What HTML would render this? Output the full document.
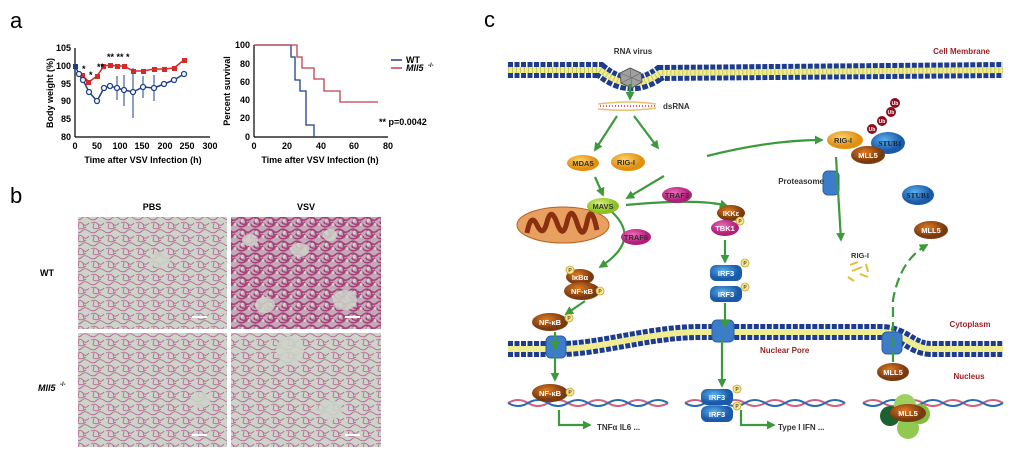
<!DOCTYPE html>
<html><head><meta charset="utf-8"><style>
body{margin:0;background:#fff;}
svg{display:block;font-family:"Liberation Sans",Arial,sans-serif;}
</style></head><body>
<svg width="1014" height="450" viewBox="0 0 1014 450" xmlns="http://www.w3.org/2000/svg">
<defs>
<marker id="ah" viewBox="0 0 10 10" refX="8" refY="5" markerWidth="4" markerHeight="4" orient="auto"><path d="M0,0 L10,5 L0,10 z" fill="#3c9a3c"/></marker>
<pattern id="lung" width="15" height="13" patternUnits="userSpaceOnUse">
<rect width="15" height="13" fill="#cdd4c9"/>
<path d="M1,2 Q5,0 8,3 T14,2 M3,7 Q7,9 11,6 M0,11 Q4,13 7,10 T15,11 M8,3 L9,7 M4,2 L3,7" stroke="#b86a98" stroke-width="0.9" fill="none"/>
</pattern>
<pattern id="lung2" width="14" height="12" patternUnits="userSpaceOnUse">
<rect width="14" height="12" fill="#c4aab9"/>
<path d="M0,2 Q4,0 7,3 T14,2 M2,7 Q7,10 11,6 M0,10 Q4,12 8,9 T14,10 M7,3 L8,7 M4,1 L2,7" stroke="#a8407a" stroke-width="1.6" fill="none"/>
<circle cx="4" cy="4.5" r="1.6" fill="#cdd4c9"/><circle cx="11" cy="8.5" r="1.5" fill="#cdd4c9"/>
</pattern>
<radialGradient id="org" cx="40%" cy="35%"><stop offset="0" stop-color="#ffd36a"/><stop offset="1" stop-color="#e08f10"/></radialGradient>
<radialGradient id="brn" cx="40%" cy="35%"><stop offset="0" stop-color="#e07a20"/><stop offset="1" stop-color="#7a3a10"/></radialGradient>
<radialGradient id="mag" cx="40%" cy="35%"><stop offset="0" stop-color="#f06ab8"/><stop offset="1" stop-color="#b0207a"/></radialGradient>
<radialGradient id="blu" cx="40%" cy="35%"><stop offset="0" stop-color="#5ab0f0"/><stop offset="1" stop-color="#1a5aa8"/></radialGradient>
<radialGradient id="grn" cx="40%" cy="35%"><stop offset="0" stop-color="#d8f080"/><stop offset="1" stop-color="#8cc020"/></radialGradient>
</defs>

<!-- ===== Panel a ===== -->
<text x="10" y="28" font-size="22">a</text>
<g font-size="9" font-weight="bold">
<line x1="75" y1="48" x2="75" y2="137" stroke="#000" stroke-width="1.2"/>
<line x1="75" y1="137" x2="210" y2="137" stroke="#000" stroke-width="1.2"/>
<g text-anchor="end">
<text x="71" y="51">105</text><text x="71" y="69">100</text><text x="71" y="87">95</text><text x="71" y="104">90</text><text x="71" y="122">85</text><text x="71" y="140">80</text></g>
<g text-anchor="middle">
<text x="75" y="149">0</text><text x="97" y="149">50</text><text x="120" y="149">100</text><text x="142" y="149">150</text><text x="165" y="149">200</text><text x="187" y="149">250</text><text x="210" y="149">300</text>
<text x="143" y="163">Time after VSV Infection (h)</text>
<text transform="translate(53,93) rotate(-90)">Body weight (%)</text>
</g>
<polyline points="75,66 79,74 83,80 89,92 97,101 104,88 110,86 117,88 124,90 133,92 143,87 154,88 164,84 174,80 184,74" fill="none" stroke="#1d3f86" stroke-width="1.5"/>
<g stroke="#1d3f86" stroke-width="1"><line x1="117" y1="76" x2="117" y2="100"/><line x1="124" y1="75" x2="124" y2="106"/><line x1="133" y1="68" x2="133" y2="118"/><line x1="143" y1="76" x2="143" y2="98"/><line x1="154" y1="75" x2="154" y2="101"/></g>
<polyline points="79,74 83,76 89,82 97,76 104,66 110,65 117,66 124,66 133,71 143,71 154,69 164,69 174,68 184,60" fill="none" stroke="#d32a2a" stroke-width="1.5"/>
<g fill="#d32a2a"><rect x="80" y="73" width="5" height="5"/><rect x="86" y="80" width="5" height="5"/><rect x="95" y="74" width="5" height="5"/><rect x="101" y="64" width="5" height="5"/><rect x="108" y="63" width="5" height="5"/><rect x="115" y="64" width="5" height="5"/><rect x="122" y="64" width="5" height="5"/><rect x="131" y="69" width="5" height="5"/><rect x="141" y="69" width="5" height="5"/><rect x="152" y="67" width="5" height="5"/><rect x="162" y="67" width="5" height="5"/><rect x="172" y="66" width="5" height="5"/><rect x="182" y="58" width="5" height="5"/></g>
<g fill="#fff" stroke="#1d3f86" stroke-width="1.3"><circle cx="89" cy="92" r="2.5"/><circle cx="97" cy="101" r="2.5"/><circle cx="104" cy="88" r="2.5"/><circle cx="110" cy="86" r="2.5"/><circle cx="117" cy="88" r="2.5"/><circle cx="124" cy="90" r="2.5"/><circle cx="133" cy="92" r="2.5"/><circle cx="143" cy="87" r="2.5"/><circle cx="154" cy="88" r="2.5"/><circle cx="164" cy="84" r="2.5"/><circle cx="174" cy="80" r="2.5"/><circle cx="184" cy="74" r="2.5"/><circle cx="79" cy="74" r="2.5"/><circle cx="83" cy="80" r="2.5"/></g>
<rect x="73" y="64" width="5" height="5" fill="#1d3f86"/>
<text x="82" y="72">*</text><text x="89" y="78">*</text><text x="97" y="70">**</text><text x="107" y="60">** ** *</text>

<line x1="254" y1="45" x2="254" y2="137" stroke="#000" stroke-width="1.2"/>
<line x1="254" y1="137" x2="388" y2="137" stroke="#000" stroke-width="1.2"/>
<g text-anchor="end"><text x="250" y="48">100</text><text x="250" y="67">80</text><text x="250" y="85">60</text><text x="250" y="103">40</text><text x="250" y="121">20</text><text x="250" y="140">0</text></g>
<g text-anchor="middle"><text x="254" y="149">0</text><text x="287" y="149">20</text><text x="321" y="149">40</text><text x="354" y="149">60</text><text x="388" y="149">80</text>
<text x="320" y="163">Time after VSV Infection (h)</text>
<text transform="translate(230,91) rotate(-90)">Percent survival</text></g>
<polyline points="254,45 291,45 291,57 295,57 295,80 300,80 300,91 306,91 306,125 314,125 314,137" fill="none" stroke="#1d3f86" stroke-width="1.3"/>
<polyline points="254,45 297,45 297,57 302,57 302,68 314,68 314,79 324,79 324,91 340,91 340,102 378,102" fill="none" stroke="#c04050" stroke-width="1.3"/>
<line x1="391" y1="60" x2="402" y2="60" stroke="#1d3f86" stroke-width="1.5"/><text x="406" y="63">WT</text>
<line x1="391" y1="68" x2="402" y2="68" stroke="#c04050" stroke-width="1.5"/><text x="406" y="71" font-style="italic">Mll5</text><text x="428" y="67" font-size="6">-/-</text>
<text x="379" y="125">**  p=0.0042</text>
</g>

<!-- ===== Panel b ===== -->
<text x="10" y="203" font-size="22">b</text>
<g font-size="9" font-weight="bold">
<text x="152" y="210" text-anchor="middle">PBS</text>
<text x="306" y="210" text-anchor="middle">VSV</text>
<text x="40" y="276">WT</text>
<text x="38" y="391" font-style="italic">Mll5</text><text x="60" y="386" font-size="6">-/-</text>
</g>
<rect x="78" y="217" width="149" height="112" fill="url(#lung)"/>
<rect x="231" y="217" width="150" height="112" fill="url(#lung2)"/>
<rect x="78" y="333" width="149" height="114" fill="url(#lung)"/>
<rect x="231" y="333" width="150" height="114" fill="url(#lung)"/>
<g fill="#cdd4c9" opacity="0.85">
<ellipse cx="250" cy="240" rx="8" ry="6"/><ellipse cx="300" cy="250" rx="9" ry="7"/><ellipse cx="345" cy="300" rx="12" ry="10"/><ellipse cx="265" cy="305" rx="10" ry="8"/><ellipse cx="330" cy="235" rx="7" ry="6"/>
<ellipse cx="290" cy="350" rx="14" ry="14"/><ellipse cx="330" cy="410" rx="12" ry="10"/><ellipse cx="160" cy="260" rx="10" ry="8"/><ellipse cx="200" cy="400" rx="10" ry="8"/>
</g>
<g fill="#fff"><rect x="192" y="316" width="15" height="2"/><rect x="345" y="316" width="15" height="2"/><rect x="192" y="434" width="15" height="2"/><rect x="345" y="434" width="15" height="2"/></g>

<!-- ===== Panel c ===== -->
<text x="484" y="27" font-size="22">c</text>
<g font-size="8" font-weight="bold">
<path d="M508,70 L600,70 Q630,95 660,73 L1003,70" fill="none" stroke="#1e3c8c" stroke-width="16" stroke-dasharray="5 1.5"/>
<path d="M508,70 L600,70 Q630,95 660,73 L1003,70" fill="none" stroke="#f0ec90" stroke-width="6"/>
<path d="M508,70 L600,70 Q630,95 660,73 L1003,70" fill="none" stroke="#c8c860" stroke-width="6" stroke-dasharray="1 3"/>
<polygon points="630,68 641,73 642,82 632,88 621,83 620,73" fill="#a0a0a0" stroke="#555"/>
<path d="M630,68 L632,88 M620,73 L642,82 M641,73 L621,83" stroke="#666" stroke-width="0.6"/>
<text x="633" y="54" text-anchor="middle" fill="#333">RNA virus</text>
<text x="990" y="54" text-anchor="end" fill="#9b2226">Cell Membrane</text>
<path d="M598,104 Q630,100 656,104 M598,109 Q630,112 656,108" stroke="#e8c070" stroke-width="1.5" fill="none"/>
<path d="M600,106 L655,106" stroke="#d06060" stroke-width="2" stroke-dasharray="1 2"/>
<text x="663" y="109" fill="#333">dsRNA</text>

<path d="M508,349 L560,349 C600,349 650,332 700,332 L880,332 C905,332 910,348 930,349 L1003,349" fill="none" stroke="#1e3c8c" stroke-width="16" stroke-dasharray="5 1.5"/>
<path d="M508,349 L560,349 C600,349 650,332 700,332 L880,332 C905,332 910,348 930,349 L1003,349" fill="none" stroke="#f0ec90" stroke-width="6"/>
<g fill="#3d7cc8" stroke="#2a5ea8">
<rect x="546" y="336" width="20" height="22" rx="5"/><rect x="712" y="320" width="22" height="22" rx="5"/><rect x="882" y="332" width="20" height="22" rx="5"/>
<rect x="823" y="171" width="16" height="24" rx="5"/>
</g>
<text x="760" y="353" fill="#9b2226">Nuclear Pore</text>
<text x="970" y="327" text-anchor="middle" fill="#9b2226">Cytoplasm</text>
<text x="969" y="379" text-anchor="middle" fill="#9b2226">Nucleus</text>
<text x="824" y="184" text-anchor="end" fill="#333">Proteasome</text>

<g fill="none" stroke-width="2">
<path d="M508,403 Q518,397 528,403 T548,403 T568,403 T588,403 T608,403 T628,403 T648,403 T668,403" stroke="#d06080"/>
<path d="M508,403 Q518,409 528,403 T548,403 T568,403 T588,403 T608,403 T628,403 T648,403 T668,403" stroke="#2a6ab0"/>
<path d="M685,403 Q695,397 705,403 T725,403 T745,403 T765,403 T785,403 T805,403 T825,403 T845,403" stroke="#d06080"/>
<path d="M685,403 Q695,409 705,403 T725,403 T745,403 T765,403 T785,403 T805,403 T825,403 T845,403" stroke="#2a6ab0"/>
<path d="M863,403 Q873,397 883,403 T903,403 T923,403 T943,403 T963,403 T983,403 T1003,403" stroke="#d06080"/>
<path d="M863,403 Q873,409 883,403 T903,403 T923,403 T943,403 T963,403 T983,403 T1003,403" stroke="#2a6ab0"/>
</g>

<g fill="none" stroke="#3c9a3c" stroke-width="2.2" marker-end="url(#ah)">
<line x1="630" y1="84" x2="630" y2="99"/>
<line x1="617" y1="116" x2="595" y2="150"/>
<line x1="634" y1="116" x2="658" y2="148"/>
<path d="M707,156 Q770,140 822,140"/>
<line x1="595" y1="177" x2="603" y2="195"/>
<line x1="664" y1="176" x2="627" y2="198"/>
<path d="M626,205 Q700,198 727,206"/>
<path d="M612,212 Q642,240 600,267"/>
<line x1="725" y1="240" x2="725" y2="262"/>
<line x1="585" y1="301" x2="566" y2="314"/>
<line x1="555" y1="332" x2="555" y2="349"/>
<line x1="555" y1="355" x2="555" y2="380"/>
<line x1="725" y1="303" x2="725" y2="327"/>
<line x1="722" y1="340" x2="722" y2="386"/>
<line x1="836" y1="157" x2="841" y2="240"/>
<polyline points="559,410 559,425 590,425"/>
<polyline points="741,410 741,425 774,425"/>
<path d="M893,362 L893,300 Q900,260 927,245" stroke-dasharray="10 5"/>
</g>

<ellipse cx="563" cy="225" rx="46" ry="18" fill="#e8a060" stroke="#b86020"/>
<path d="M527,233 Q531,212 537,225 T547,222 T557,223 T567,222 T577,223 T587,222 T597,230" fill="none" stroke="#8a3010" stroke-width="5"/>

<g font-size="7.5" text-anchor="middle">
<ellipse cx="583" cy="163" rx="16" ry="8" fill="url(#org)"/><text x="583" y="166" fill="#333">MDA5</text>
<ellipse cx="628" cy="162" rx="17" ry="9" fill="url(#org)"/><text x="626" y="165" fill="#333">RIG-I</text>
<ellipse cx="603" cy="206" rx="16" ry="8" fill="url(#grn)"/><text x="603" y="209" fill="#333">MAVS</text>
<ellipse cx="677" cy="195" rx="15" ry="8" fill="url(#mag)"/><text x="677" y="198" fill="#333">TRAF3</text>
<ellipse cx="731" cy="213" rx="14" ry="8" fill="url(#brn)"/><text x="731" y="216" fill="#fff">IKKε</text>
<ellipse cx="725" cy="228" rx="14" ry="8" fill="url(#mag)"/><text x="725" y="231" fill="#fff">TBK1</text>
<ellipse cx="636" cy="237" rx="15" ry="8" fill="url(#mag)"/><text x="636" y="240" fill="#333">TRAF6</text>
<ellipse cx="580" cy="277" rx="14" ry="8" fill="url(#brn)"/><text x="580" y="280" fill="#fff">IκBα</text>
<ellipse cx="582" cy="291" rx="18" ry="9" fill="url(#brn)"/><text x="582" y="294" fill="#fff">NF-κB</text>
<ellipse cx="550" cy="322" rx="18" ry="9" fill="url(#brn)"/><text x="550" y="325" fill="#fff">NF-κB</text>
<ellipse cx="550" cy="393" rx="18" ry="9" fill="url(#brn)"/><text x="550" y="396" fill="#fff">NF-κB</text>
<rect x="710" y="265" width="32" height="16" rx="6" fill="url(#blu)"/><text x="726" y="276" fill="#fff">IRF3</text>
<rect x="710" y="286" width="32" height="16" rx="6" fill="url(#blu)"/><text x="726" y="297" fill="#fff">IRF3</text>
<rect x="701" y="389" width="32" height="16" rx="6" fill="url(#blu)"/><text x="717" y="400" fill="#fff">IRF3</text>
<rect x="701" y="406" width="32" height="16" rx="6" fill="url(#blu)"/><text x="717" y="417" fill="#fff">IRF3</text>
<circle cx="895" cy="103" r="5" fill="#8a1020"/><circle cx="891" cy="112" r="5" fill="#8a1020"/><circle cx="882" cy="121" r="5" fill="#8a1020"/><circle cx="872" cy="129" r="5" fill="#8a1020"/>
<ellipse cx="888" cy="143" rx="17" ry="11" fill="url(#blu)"/><text x="890" y="146" fill="#123" font-family="Liberation Serif">STUB1</text>
<ellipse cx="845" cy="140" rx="18" ry="9" fill="url(#org)"/><text x="843" y="143" fill="#333">RIG-I</text>
<ellipse cx="868" cy="155" rx="17" ry="9" fill="url(#brn)"/><text x="868" y="158" fill="#fff">MLL5</text>
<ellipse cx="918" cy="195" rx="16" ry="10" fill="url(#blu)"/><text x="918" y="198" fill="#123" font-family="Liberation Serif">STUB1</text>
<ellipse cx="931" cy="230" rx="17" ry="9" fill="url(#brn)"/><text x="931" y="233" fill="#fff">MLL5</text>
<ellipse cx="893" cy="372" rx="16" ry="9" fill="url(#brn)"/><text x="893" y="375" fill="#fff">MLL5</text>
<circle cx="890" cy="416" r="10" fill="#1a6030"/><circle cx="905" cy="405" r="11" fill="#a0d060"/><circle cx="908" cy="428" r="11" fill="#90c850"/><circle cx="920" cy="414" r="10" fill="#80c040"/>
<ellipse cx="908" cy="413" rx="18" ry="9" fill="url(#brn)"/><text x="908" y="416" fill="#fff">MLL5</text>
<text x="860" y="258" fill="#333">RIG-I</text>
<path d="M850,265 l8,-3 M852,271 l10,-4 M848,277 l6,4 M860,274 l8,3 M866,264 l2,8" stroke="#e0c030" stroke-width="2"/>
</g>
<g fill="#f8e890" stroke="#c8a030" stroke-width="0.8">
<circle cx="740" cy="221" r="4"/><circle cx="570" cy="270" r="4"/><circle cx="600" cy="291" r="4"/><circle cx="569" cy="318" r="4"/><circle cx="745" cy="263" r="4"/><circle cx="745" cy="287" r="4"/><circle cx="570" cy="392" r="4"/><circle cx="737" cy="389" r="4"/><circle cx="737" cy="406" r="4"/>
</g>
<g font-size="5" text-anchor="middle" fill="#553">
<text x="740" y="223">P</text><text x="570" y="272">P</text><text x="600" y="293">P</text><text x="569" y="320">P</text><text x="745" y="265">P</text><text x="745" y="289">P</text><text x="570" y="394">P</text><text x="737" y="391">P</text><text x="737" y="408">P</text>
</g>
<g font-size="5" text-anchor="middle" fill="#fff"><text x="895" y="105">Ub</text><text x="891" y="114">Ub</text><text x="882" y="123">Ub</text><text x="872" y="131">Ub</text></g>
<text x="597" y="430" fill="#333">TNFα  IL6 ...</text>
<text x="778" y="430" fill="#333">Type I IFN ...</text>
</g>
</svg>
</body></html>
